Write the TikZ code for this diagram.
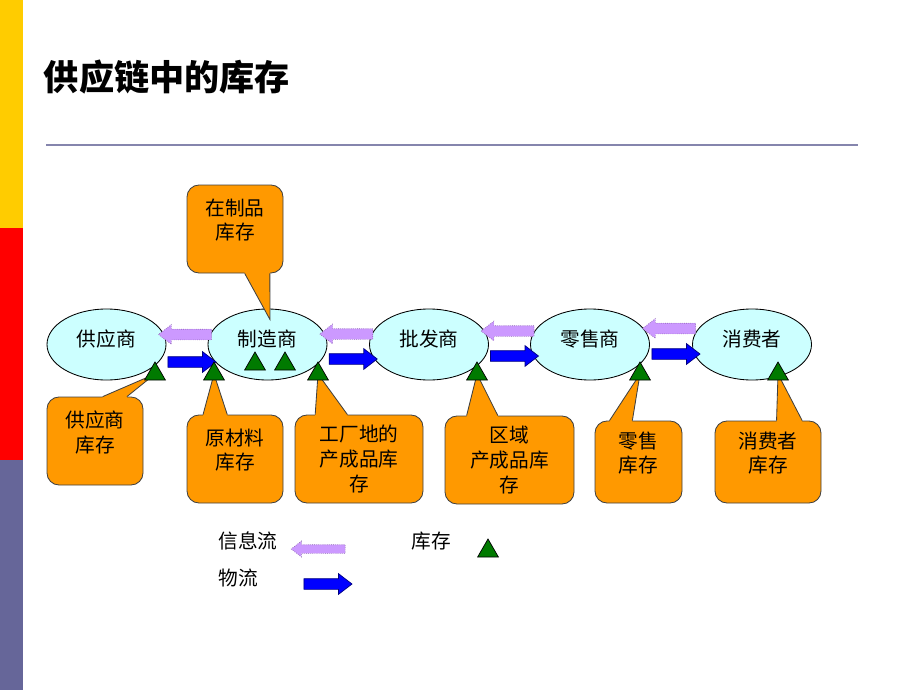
\documentclass[tikz,border=0pt]{standalone}
\usepackage{fontspec}
\setmainfont{Noto Sans CJK SC}
\usepackage{xcolor}
\usepackage{tikz}
\usetikzlibrary{shapes,arrows,positioning,calc}

\definecolor{barYellow}{HTML}{FFCC00}
\definecolor{barRed}{HTML}{FF0000}
\definecolor{barSlate}{HTML}{666699}
\definecolor{ruleBlue}{HTML}{8585AD}
\definecolor{partyCyan}{HTML}{CCFFFF}
\definecolor{calloutOrange}{HTML}{FF9900}
\definecolor{infoViolet}{HTML}{CC99FF}
\definecolor{stockGreen}{HTML}{007A00}

% one unit = one pixel of the slide
\def\pxu{0.025cm}
\newcommand{\labelfont}{\fontsize{14}{17.5}\selectfont}

\tikzset{
  party/.style={ellipse, draw=black, line width=0.6pt, fill=partyCyan,
    minimum width=119*\pxu, minimum height=71*\pxu, inner sep=0pt,
    text depth=0.3cm, font=\labelfont},
  stockbox/.style={draw=black!75, line width=0.6pt, fill=calloutOrange,
    rounded corners=0.3cm, align=center, inner sep=0pt, font=\labelfont},
  twolines/.style={text depth=0.48cm},
  pointerline/.style={draw=black!75, line width=0.6pt},
  stock/.style={regular polygon, regular polygon sides=3, draw=black,
    line width=0.5pt, fill=stockGreen, minimum size=24*\pxu, inner sep=0pt},
  infoflow/.style={single arrow, shape border rotate=180, fill=infoViolet,
    draw=infoViolet!70!black, densely dotted, line width=0.5pt,
    minimum height=53*\pxu, minimum width=19*\pxu, inner xsep=0pt,
    inner ysep=5*\pxu, single arrow head extend=4.5*\pxu,
    single arrow tip angle=75},
  goodsflow/.style={single arrow, fill=blue, draw=blue!50!black,
    line width=0.5pt, minimum height=48*\pxu, minimum width=20*\pxu,
    inner xsep=0pt, inner ysep=5*\pxu, single arrow head extend=5*\pxu,
    single arrow tip angle=75}
}

\begin{document}
\begin{tikzpicture}[x=0.025cm, y=-0.025cm]
  \useasboundingbox (0,0) rectangle (920,690);

  % side bars
  \fill[barYellow] (0,0) rectangle (23,228);
  \fill[barRed] (0,228) rectangle (23,460);
  \fill[barSlate] (0,460) rectangle (23,690);

  % title and rule
  \node[font=\fontsize{25}{30}\selectfont\bfseries] (title) at (167,77) {供应链中的库存};
  \draw[ruleBlue, line width=2*\pxu] (46,145) -- (858,145);

  % the chain
  \node[party] (sup) at (106.5,344.5) {供应商};
  \node[party] (mfr) at (267.5,344.5) {制造商};
  \node[party] (whl) at (429,344.5) {批发商};
  \node[party] (ret) at (590,344.5) {零售商};
  \node[party] (con) at (752,344.5) {消费者};

  % information flows back, goods flow forward
  \foreach \a/\b/\dyi/\dym [count=\i] in {sup/mfr/-10/17.5, mfr/whl/-10.5/14.5,
      whl/ret/-13.5/11.5, ret/con/-16/9.5} {
    \node[infoflow] (info\i) at ($(\a.east)!0.5!(\b.west)+(1.5,\dyi)$) {};
    \node[goodsflow] (goods\i) at ($(\a.east)!0.5!(\b.west)+(1.5,\dym)$) {};
  }

  % where the stock sits
  \coordinate (stk1) at (155,374);
  \coordinate (stk2) at (214,374);
  \coordinate (stk3) at (255,364);
  \coordinate (stk4) at (285,364);
  \coordinate (stk5) at (318,374);
  \coordinate (stk6) at (477,374);
  \coordinate (stk7) at (640,374);
  \coordinate (stk8) at (778,374);
  \coordinate (wiptip) at ($(mfr.north)+(2.5,11)$);

  % callouts
  \node[stockbox, twolines, minimum width=96*\pxu, minimum height=88*\pxu] (wipinv) at (235,229) {在制品\\库存};
  \node[stockbox, twolines, minimum width=96*\pxu, minimum height=88*\pxu] (supinv) at (95,441) {供应商\\库存};
  \node[stockbox, twolines, minimum width=96*\pxu, minimum height=88*\pxu] (rawinv) at (235,459) {原材料\\库存};
  \node[stockbox, minimum width=128*\pxu, minimum height=88*\pxu] (fginv) at (359,459) {工厂地的\\产成品库\\存};
  \node[stockbox, minimum width=129*\pxu, minimum height=88*\pxu] (reginv) at (509.5,460) {区域\\产成品库\\存};
  \node[stockbox, twolines, minimum width=87*\pxu, minimum height=82*\pxu] (retinv) at (638.5,462) {零售\\库存};
  \node[stockbox, twolines, minimum width=106*\pxu, minimum height=82*\pxu] (coninv) at (768,462) {消费者\\库存};

  % callout pointers
  \foreach \bx/\fa/\fb/\tip in {supinv/0.58/0.83/stk1, rawinv/0.17/0.42/stk2,
      fginv/0.16/0.41/stk5, reginv/0.17/0.41/stk6, retinv/0.17/0.43/stk7,
      coninv/0.58/0.82/stk8} {
    \coordinate (pa) at ($(\bx.north west)!\fa!(\bx.north east)$);
    \coordinate (pb) at ($(\bx.north west)!\fb!(\bx.north east)$);
    \fill[calloutOrange] (pa) -- (\tip) -- (pb) -- ($(pb)+(0,2)$) -- ($(pa)+(0,2)$) -- cycle;
    \draw[pointerline] (pa) -- (\tip) -- (pb);
  }
  \coordinate (pa) at ($(wipinv.south west)!0.6!(wipinv.south east)$);
  \coordinate (pb) at ($(wipinv.south west)!0.86!(wipinv.south east)$);
  \fill[calloutOrange] (pa) -- (wiptip) -- (pb) -- ($(pb)+(0,-2)$) -- ($(pa)+(0,-2)$) -- cycle;
  \draw[pointerline] (pa) -- (wiptip) -- (pb);

  % stock triangles
  \foreach \i in {1,...,8}
    \node[stock] (tri\i) at (stk\i) {};

  % legend
  \node[font=\labelfont] (legInfo) at (248,541) {信息流};
  \node[infoflow, minimum height=54*\pxu, minimum width=15*\pxu,
    inner ysep=4*\pxu, single arrow head extend=3.5*\pxu] (legInfoArrow) at (321,549) {};
  \node[font=\labelfont] (legGoods) at (238,578) {物流};
  \node[goodsflow] (legGoodsArrow) at (324.5,584) {};
  \node[font=\labelfont] (legStock) at (431,541) {库存};
  \node[stock] (legTri) at (488,551) {};
\end{tikzpicture}
\end{document}
